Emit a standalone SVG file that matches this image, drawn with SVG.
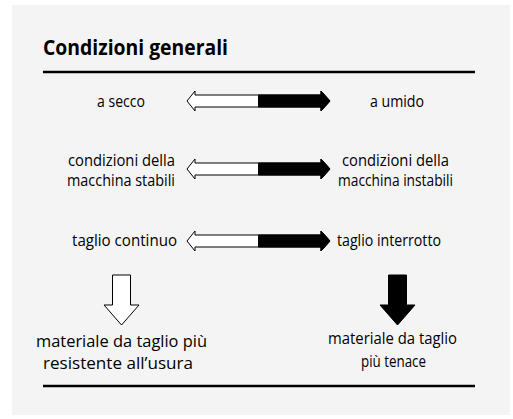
<svg xmlns="http://www.w3.org/2000/svg" width="513" height="419" viewBox="0 0 513 419">
<style>
.t{font-family:"Open Sans","Noto Sans",sans-serif;font-size:15.5px;fill:#000}
.b{font-family:"Open Sans","Noto Sans",sans-serif;font-size:17px;fill:#000}
.h{font-family:"Open Sans","Noto Sans",sans-serif;font-size:22px;font-weight:bold;fill:#000}
.wa{fill:#fff;stroke:#000;stroke-width:1}
.ba{fill:#000;stroke:#000;stroke-width:1}
.rule{stroke:#000;stroke-width:2.5}
</style>
<defs>
<polygon id="dbl" points="187,0 195,-10 195,-6 321,-6 321,-10 330,0 321,10 321,6 195,6 195,10"/>
<polygon id="blk" points="258.5,-6 321,-6 321,-10 330,0 321,10 321,6 258.5,6"/>
</defs>
<rect width="513" height="419" fill="#fff"/>
<rect x="12" y="5" width="498" height="410" fill="#f4f4f4"/>
<g id="title">
<text class="h" x="43" y="55" textLength="185" lengthAdjust="spacingAndGlyphs">Condizioni generali</text>
</g>
<g id="rules">
<line class="rule" x1="43" y1="72" x2="475" y2="72"/>
<line class="rule" x1="43" y1="386" x2="475" y2="386"/>
</g>
<g id="row1">
<text class="t" x="97" y="107" textLength="48" lengthAdjust="spacingAndGlyphs">a secco</text>
<text class="t" x="370" y="107" textLength="54" lengthAdjust="spacingAndGlyphs">a umido</text>
</g>
<g id="row2">
<text class="t" x="68" y="166" textLength="107" lengthAdjust="spacingAndGlyphs">condizioni della</text>
<text class="t" x="67" y="186" textLength="108" lengthAdjust="spacingAndGlyphs">macchina stabili</text>
<text class="t" x="342" y="166" textLength="107" lengthAdjust="spacingAndGlyphs">condizioni della</text>
<text class="t" x="338" y="186" textLength="115" lengthAdjust="spacingAndGlyphs">macchina instabili</text>
</g>
<g id="row3">
<text class="t" x="72" y="246" textLength="105" lengthAdjust="spacingAndGlyphs">taglio continuo</text>
<text class="t" x="337" y="246" textLength="104" lengthAdjust="spacingAndGlyphs">taglio interrotto</text>
</g>
<g id="connectors">
<g transform="translate(0,101)"><use href="#dbl" class="wa"/><use href="#blk" class="ba"/></g>
<g transform="translate(0,169)"><use href="#dbl" class="wa"/><use href="#blk" class="ba"/></g>
<g transform="translate(0,241)"><use href="#dbl" class="wa"/><use href="#blk" class="ba"/></g>
<polygon class="wa" points="112.5,275 130.5,275 130.5,305 139,305 121.5,325 104,305 112.5,305"/>
<polygon class="ba" points="388.5,275 406.5,275 406.5,305 415,305 397.5,325 380,305 388.5,305"/>
</g>
<g id="result-left">
<text class="b" x="36" y="347" textLength="171" lengthAdjust="spacingAndGlyphs">materiale da taglio più</text>
<text class="b" x="43" y="369" textLength="150" lengthAdjust="spacingAndGlyphs">resistente all’usura</text>
</g>
<g id="result-right">
<text class="b" x="328" y="344" textLength="129" lengthAdjust="spacingAndGlyphs">materiale da taglio</text>
<text class="b" x="361" y="367" textLength="65" lengthAdjust="spacingAndGlyphs">più tenace</text>
</g>
</svg>
